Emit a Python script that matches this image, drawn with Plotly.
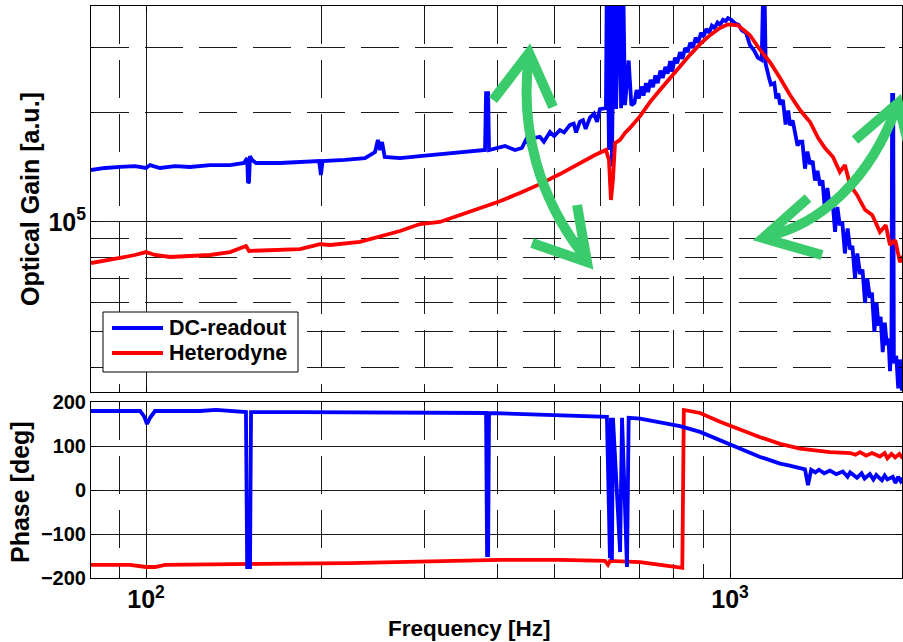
import math
import plotly.graph_objects as go

# ---------------- data ----------------
dc_gain_freq = [80.5, 85.1, 90.3, 95.7, 100, 101.6, 105.7, 112.1, 118.9, 128.7, 139.3, 147.2, 149.0, 149.5,
                150.1, 150.7, 151.9, 154.3, 169.6, 183.5, 197.9, 199.3, 200.6, 219.0, 237.1, 246.7, 249.5,
                251.6, 253.6, 256.3, 272.3, 294.5, 318.5, 345.0, 366.2, 380.6, 382.2, 385.3, 386.7,
                412.0, 428.4, 440.1, 447.1, 455, 462, 472.6, 480, 491.8, 500, 511.4, 520, 532.1, 540, 545,
                553.4, 560, 566, 575.7, 585, 592, 598.6, 613.1,
                615.5, 620.5, 625.3, 627.8, 632.8, 638.1, 645.7, 650.9, 655.7, 661.0, 670.6, 677.7,
                686, 692, 698, 705, 711, 718, 724, 731, 738, 745, 752, 760, 767, 775, 782, 790, 796, 805,
                812, 821, 829, 838, 846, 855, 864, 873, 882, 892, 901, 911, 921, 931, 941, 952, 962, 973,
                983, 992,
                1005, 1020, 1034, 1048, 1065, 1082, 1100, 1116, 1133, 1138, 1147, 1151,
                1165, 1175, 1191, 1200, 1210, 1218, 1232, 1245, 1258, 1267, 1280, 1294, 1305, 1318, 1330,
                1344, 1357, 1371, 1385, 1398, 1412, 1426, 1440, 1454, 1468, 1483, 1498, 1513, 1527, 1542,
                1557, 1573, 1590, 1606, 1620, 1637, 1652, 1670, 1686, 1703, 1718, 1736, 1750, 1767, 1782,
                1796, 1811, 1826, 1841, 1856, 1868, 1879, 1890, 1895, 1903, 1908, 1926, 1941, 1954, 1970,
                1985]
dc_gain = [1.388e5, 1.406e5, 1.415e5, 1.423e5, 1.406e5, 1.432e5, 1.406e5, 1.423e5, 1.415e5, 1.432e5,
           1.432e5, 1.451e5, 1.497e5, 1.279e5, 1.287e5, 1.516e5, 1.479e5, 1.451e5, 1.451e5, 1.460e5,
           1.469e5, 1.345e5, 1.469e5, 1.479e5, 1.497e5, 1.555e5, 1.678e5, 1.575e5, 1.656e5, 1.507e5,
           1.497e5, 1.516e5, 1.536e5, 1.555e5, 1.565e5, 1.575e5, 2.256e5, 2.256e5, 1.575e5,
           1.615e5, 1.575e5, 1.595e5, 1.678e5, 1.62e5, 1.70e5, 1.711e5, 1.66e5, 1.764e5, 1.72e5, 1.786e5,
           1.76e5, 1.845e5, 1.86e5, 1.76e5, 1.883e5, 1.90e5, 1.80e5, 1.932e5, 1.98e5, 1.88e5, 2.037e5,
           2.052e5,
           5e5, 1.575e5, 5e5, 1.42e5, 5e5, 2.04e5, 5e5, 2.05e5, 5e5, 2.09e5, 2.77e5, 2.09e5,
           2.12e5, 2.30e5, 2.18e5, 2.35e5, 2.22e5, 2.40e5, 2.27e5, 2.45e5, 2.34e5, 2.52e5, 2.40e5, 2.60e5,
           2.48e5, 2.66e5, 2.55e5, 2.76e5, 2.58e5, 2.82e5, 2.72e5, 2.92e5, 2.80e5, 3.0e5, 2.92e5, 3.1e5,
           3.0e5, 3.2e5, 3.1e5, 3.3e5, 3.22e5, 3.38e5, 3.30e5, 3.45e5, 3.40e5, 3.52e5, 3.47e5, 3.58e5,
           3.55e5, 3.62e5,
           3.58e5, 3.50e5, 3.47e5, 3.35e5, 3.30e5, 3.05e5, 2.95e5, 2.82e5, 2.78e5, 3.86e5, 3.86e5, 2.71e5,
           2.50e5, 2.38e5, 2.40e5, 2.18e5, 2.25e5, 2.10e5, 2.16e5, 1.85e5, 2.02e5, 1.84e5, 1.90e5, 1.72e5,
           1.62e5, 1.66e5, 1.66e5, 1.40e5, 1.56e5, 1.44e5, 1.47e5, 1.30e5, 1.38e5, 1.26e5, 1.30e5, 1.08e5,
           1.24e5, 1.10e5, 1.15e5, 9.4e4, 1.10e5, 9.8e4, 1.0e5, 8.2e4, 9.6e4, 8.4e4, 8.6e4, 7.0e4, 8.2e4,
           7.2e4, 7.4e4, 6.0e4, 7.0e4, 6.2e4, 6.4e4, 5.0e4, 6.0e4, 5.2e4, 5.5e4, 4.4e4, 5.3e4, 4.6e4,
           4.8e4, 3.9e4, 4.6e4, 2.228e5, 2.228e5, 4.1e4, 4.3e4, 3.5e4, 4.2e4, 3.45e4, 4.0e4]

het_gain_freq = [80.5, 85.1, 90.3, 95.7, 100, 103.6, 109.9, 118.9, 128.7, 139.3, 144.9, 148.3, 150.1,
                 163.0, 183.5, 198.6, 206.7, 232.4, 251.6, 272.3, 294.5, 318.5, 345.0, 373.4, 403.6,
                 436.7, 472.6, 511.4, 553.4, 587.1, 613.1, 620.5, 625.3, 630.3, 635.5, 648.3, 661.0,
                 674.0, 701.5, 729.3, 758.6, 789.3, 820.9, 854.0, 888.6, 924.2, 961.2, 992.2, 1032,
                 1082, 1126, 1171, 1218, 1267, 1318, 1371, 1415, 1454, 1501, 1542, 1573, 1606, 1650,
                 1703, 1752, 1806, 1848, 1879, 1918, 1954, 1985]
het_gain = [7.72e4, 7.82e4, 7.97e4, 8.12e4, 8.27e4, 8.12e4, 8.02e4, 8.07e4, 8.12e4, 8.27e4, 8.49e4,
            8.59e4, 8.33e4, 8.38e4, 8.43e4, 8.70e4, 8.65e4, 8.82e4, 9.15e4, 9.45e4, 9.87e4, 1.0e5,
            1.045e5, 1.092e5, 1.14e5, 1.20e5, 1.27e5, 1.353e5, 1.45e5, 1.526e5, 1.575e5, 1.479e5,
            1.149e5, 1.303e5, 1.646e5, 1.678e5, 1.753e5, 1.81e5, 1.95e5, 2.13e5, 2.30e5, 2.48e5,
            2.67e5, 2.87e5, 3.07e5, 3.25e5, 3.40e5, 3.48e5, 3.46e5, 3.25e5, 2.96e5, 2.74e5, 2.48e5,
            2.228e5, 2.026e5, 1.88e5, 1.70e5, 1.595e5, 1.507e5, 1.371e5, 1.432e5, 1.262e5, 1.186e5,
            1.08e5, 1.045e5, 9.39e4, 9.8e4, 8.65e4, 8.92e4, 7.77e4, 8.12e4]

dc_phase_freq = [80.5, 97.7, 99.2, 100.4, 101.6, 103.6, 123.7, 131.8, 148.3, 149.0, 150.7, 151.3, 183.5,
                 272.3, 331.6, 382.2, 383.7, 385.3, 386.7, 436.7, 511.4, 598.6, 615.5, 622.9, 625.3,
                 627.8, 630.3, 648.3, 653.3, 666.2, 670.6, 701.5, 758.6, 820.9, 888.6, 961.2, 1041,
                 1126, 1170, 1218, 1260, 1318, 1344, 1360, 1377, 1400, 1420, 1450, 1483, 1520, 1560,
                 1590, 1606, 1650, 1680, 1700, 1736, 1760, 1780, 1820, 1840, 1860, 1900, 1920, 1940,
                 1960, 1977]
dc_phase = [179.5, 179.5, 168, 150, 164, 179.5, 179.5, 182, 177, -175, -175, 177, 177, 177, 175, 175,
            -148, -148, 175, 173, 170, 168, 166, -155, 164, -159, 164, -141, 164, -175, 164, 162, 154,
            145, 132, 113, 92, 75, 68, 60, 56, 50, 47, 11, 46, 40, 46, 38, 44, 36, 42, 30, 40, 28, 38,
            26, 36, 24, 34, 22, 33, 24, 30, 16, 30, 20, 28]

het_phase_freq = [80.5, 93.9, 100, 103.6, 107.8, 150.7, 156.7, 223.4, 318.5, 403.6, 511.4, 610.7, 618.0,
                  622.9, 701.5, 758.6, 828.5, 833.6, 888.6, 961.2, 1041, 1126, 1218, 1318, 1483, 1606,
                  1640, 1670, 1710, 1750, 1806, 1840, 1860, 1890, 1918, 1950, 1977]
het_phase = [-170, -170, -175, -175, -170, -170, -168, -166, -161, -159, -159, -161, -170, -161, -164,
             -170, -177, 182, 175, 155, 137, 120, 105, 94, 86, 84, 80, 86, 78, 84, 76, 84, 72, 82, 74,
             82, 72]

series_names = ["DC-readout", "Heterodyne"]

assert len(dc_gain_freq) == len(dc_gain)
assert len(het_gain_freq) == len(het_gain)
assert len(dc_phase_freq) == len(dc_phase)
assert len(het_phase_freq) == len(het_phase)

# ---------------- layout geometry ----------------
W, H = 903, 642
ML, MR, MT, MB = 91, 1, 6, 64
PW, PH = W - ML - MR, H - MT - MB


def px(x, y):
    """pixel position -> paper coordinates (for decorations only)"""
    return (x - ML) / PW, (H - MB - y) / PH


X_RANGE = [math.log10(80.5), 3.2945]
GAIN_RANGE = [4.5342, 5.5918]

FONT = "Arial, Liberation Sans, sans-serif"
BLUE, RED, GREEN = "#0000FF", "#FF0000", "#3ACC6C"
GRID = "#1a1a1a"
DASH = "38px,16px"
LW = 3.8

fig = go.Figure()
fig.add_trace(go.Scatter(x=dc_gain_freq, y=dc_gain, mode="lines", name=series_names[0],
                         line=dict(color=BLUE, width=LW), xaxis="x", yaxis="y"))
fig.add_trace(go.Scatter(x=het_gain_freq, y=het_gain, mode="lines", name=series_names[1],
                         line=dict(color=RED, width=LW), xaxis="x", yaxis="y"))
fig.add_trace(go.Scatter(x=het_phase_freq, y=het_phase, mode="lines", name=series_names[1],
                         showlegend=False, line=dict(color=RED, width=LW), xaxis="x2", yaxis="y2"))
fig.add_trace(go.Scatter(x=dc_phase_freq, y=dc_phase, mode="lines", name=series_names[0],
                         showlegend=False, line=dict(color=BLUE, width=LW), xaxis="x2", yaxis="y2"))

tick_font = dict(family=FONT, size=20, color="black", weight="bold")
minor_log = dict(dtick="D1", showgrid=True, gridcolor=GRID, gridwidth=1, griddash=DASH,
                 ticks="inside", ticklen=3, tickcolor="black")
common_axis = dict(showline=True, linecolor="black", linewidth=1, mirror="ticks",
                   ticks="inside", ticklen=6, tickcolor="black", showgrid=True,
                   gridcolor=GRID, gridwidth=1, zeroline=False, tickfont=tick_font)

top_dom = [(H - MB - 392) / PH, 1.0]
bot_dom = [0.0, (H - MB - 402) / PH]

fig.update_layout(
    width=W, height=H,
    margin=dict(l=ML, r=MR, t=MT, b=MB, autoexpand=False),
    paper_bgcolor="white", plot_bgcolor="white",
    font=dict(family=FONT, color="black"),
    xaxis=dict(type="log", range=X_RANGE, domain=[0, 1], anchor="y", dtick=1,
               showticklabels=False, minor=minor_log, **common_axis),
    yaxis=dict(type="log", range=GAIN_RANGE, domain=top_dom, anchor="x", dtick=1,
               exponentformat="power", minor=minor_log, **common_axis),
    xaxis2=dict(type="log", range=X_RANGE, domain=[0, 1], anchor="y2", dtick=1,
                exponentformat="power", minor=minor_log, **common_axis),
    yaxis2=dict(range=[-200, 200], domain=bot_dom, anchor="x2", dtick=100, **common_axis),
    showlegend=False,
)

# axis titles
for text, (x, y), angle, size in [("Optical Gain [a.u.]", px(30, 199), -90, 25),
                                  ("Phase [deg]", px(20, 492), -90, 25),
                                  ("Frequency [Hz]", px(469, 628), 0, 22.5)]:
    fig.add_annotation(text=text, x=x, y=y, xref="paper", yref="paper", showarrow=False,
                       textangle=angle, xanchor="center", yanchor="middle",
                       font=dict(family=FONT, size=size, color="black", weight="bold"))

# legend box (drawn like the MATLAB legend)
lx0, ly0 = px(103, 312)
lx1, ly1 = px(298, 372)
fig.add_shape(type="rect", x0=lx0, y0=ly0, x1=lx1, y1=ly1, xref="paper", yref="paper",
              line=dict(color="black", width=1), fillcolor="white", layer="above")
for name, color, row_y in [(series_names[0], BLUE, 328), (series_names[1], RED, 353)]:
    sx0, sy = px(112, row_y)
    sx1, _ = px(163, row_y)
    fig.add_shape(type="line", x0=sx0, y0=sy, x1=sx1, y1=sy, xref="paper", yref="paper",
                  line=dict(color=color, width=4), layer="above")
    tx, ty = px(167, row_y)
    fig.add_annotation(text=name, x=tx, y=ty, xref="paper", yref="paper", showarrow=False,
                       xanchor="left", yanchor="middle",
                       font=dict(family=FONT, size=21.5, color="black", weight="bold"))

# green double-headed arrows (decorations, given in pixel positions)
arrow_paths = [
    ("M", [(529, 55)], "C", [(519, 130), (540, 200), (585, 257)]),
    ("M", [(493, 100)], "L", [(529, 53), (553, 107)]),
    ("M", [(532, 243)], "L", [(587, 262), (577, 205)]),
    ("M", [(765, 237)], "C", [(820, 225), (870, 180), (897, 106)]),
    ("M", [(808, 198)], "L", [(763, 238), (822, 255)]),
    ("M", [(855, 140)], "L", [(898, 103), (910, 150)]),
]
for m, start, cmd, pts in arrow_paths:
    path = "M %.4f,%.4f " % px(*start[0])
    if cmd == "C":
        path += "C " + " ".join("%.4f,%.4f" % px(x, y) for x, y in pts)
    else:
        path += " ".join("L %.4f,%.4f" % px(x, y) for x, y in pts)
    fig.add_shape(type="path", path=path, xref="paper", yref="paper",
                  line=dict(color=GREEN, width=10), layer="above")

fig.write_html("out.html", config={"displayModeBar": False},
               post_script="document.body.style.margin='0px';")
